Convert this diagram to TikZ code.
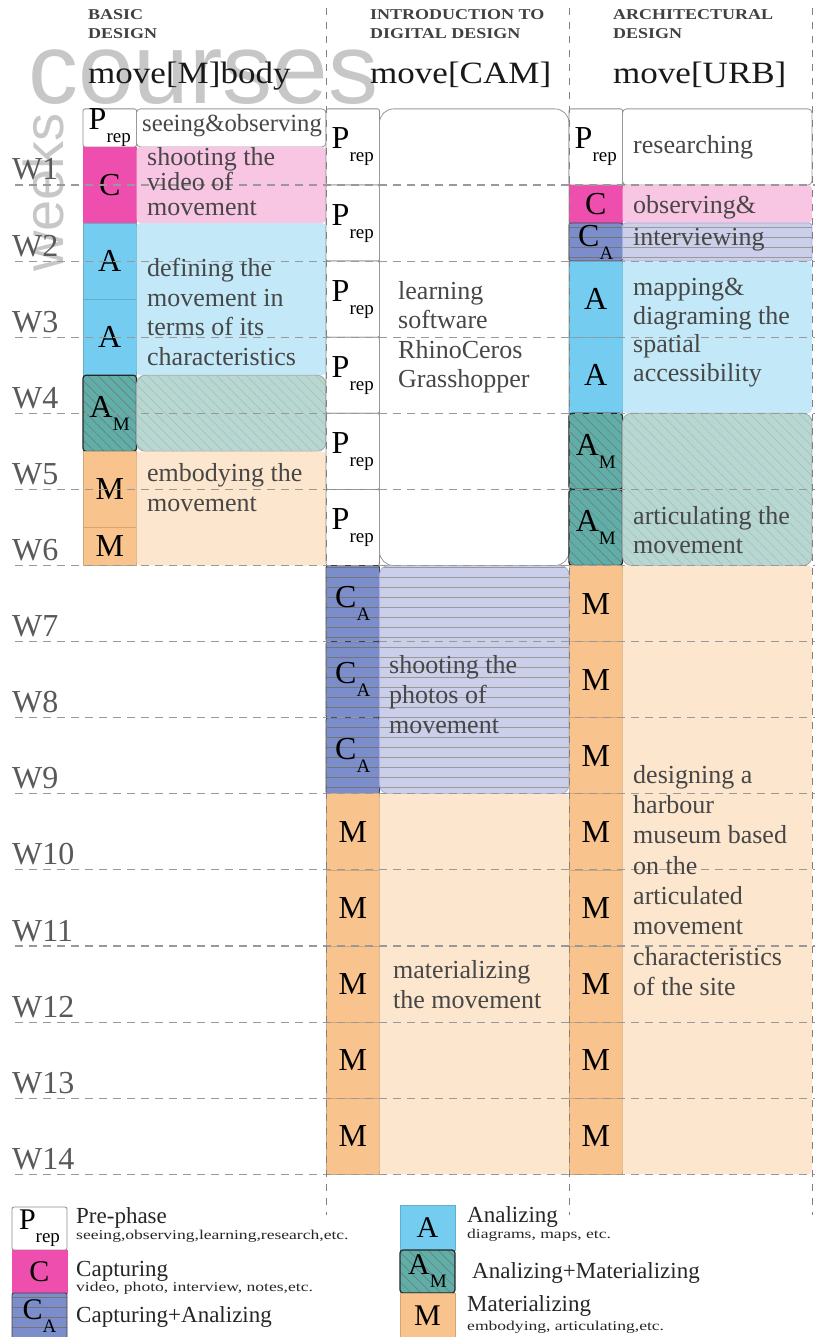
\documentclass[tikz,border=0pt]{standalone}
\usepackage{fontspec}
\setmainfont{Liberation Serif}
\newfontfamily\grayfont{Liberation Sans}
\newfontfamily\wideserif{Liberation Serif}[FakeStretch=1.2]
\newfontfamily\titleserif{Liberation Serif}[FakeStretch=1.13]
\newfontfamily\narrowserif{Liberation Serif}[FakeStretch=1.3]
\usetikzlibrary{positioning,patterns.meta}

\definecolor{capdark}{HTML}{EE4FAE}
\definecolor{caplight}{HTML}{F8C6E3}
\definecolor{anadark}{HTML}{74CDF1}
\definecolor{analight}{HTML}{C3E9F8}
\definecolor{amdark}{HTML}{5FAEA8}
\definecolor{amlight}{HTML}{B9D6D0}
\definecolor{cadark}{HTML}{7B8ECB}
\definecolor{calight}{HTML}{CBCFE9}
\definecolor{matdark}{HTML}{F8C38C}
\definecolor{matlight}{HTML}{FCE6CD}

\newcommand{\pxsize}[1]{\fontsize{#1}{#1}\selectfont}
\newcommand{\lowsub}[1]{\raisebox{-13pt}{\pxsize{19}#1}}
% block: name, style, left, width, first week, weeks long, text
\newcommand{\blk}[7]{\node[#2,minimum width=#4pt,minimum height={76.1pt*#6}]
  (#1) at (#3,{108.9+76.1*#5}) {#7};}

\begin{document}
\begin{tikzpicture}[x=1pt,y=-1pt,
  cell/.style={anchor=north west,inner sep=0pt,outer sep=0pt,line width=0.8pt,font=\pxsize{32}},
  pcell/.style={cell,fill=white,draw=black!45,rounded corners=2pt},
  ccell/.style={cell,fill=capdark,draw=capdark},
  acell/.style={cell,fill=anadark,draw=anadark!85!black},
  amcell/.style={cell,preaction={fill=amdark},pattern={Lines[angle=-45,distance=7pt,line width=0.5pt]},
    pattern color=black!55,draw=black!85,line width=1.2pt,rounded corners=3pt},
  cacell/.style={cell,preaction={fill=cadark},pattern={Lines[angle=0,distance=10pt,line width=0.7pt]},
    pattern color=black!55,draw=black!75,rounded corners=2pt},
  mcell/.style={cell,fill=matdark,draw=matdark!85!black},
  pdesc/.style={cell,fill=white,draw=black!40,rounded corners=4pt},
  cdesc/.style={cell,fill=caplight,rounded corners=4pt},
  adesc/.style={cell,fill=analight,rounded corners=4pt},
  amdesc/.style={cell,preaction={fill=amlight},pattern={Lines[angle=-45,distance=7pt,line width=0.5pt]},
    pattern color=amdark!70,draw=black!35,rounded corners=9pt},
  cadesc/.style={cell,preaction={fill=calight},pattern={Lines[angle=0,distance=10pt,line width=0.7pt]},
    pattern color=black!40,draw=cadark!70,rounded corners=9pt},
  mdesc/.style={cell,fill=matlight,rounded corners=4pt},
  dtext/.style={align=left,inner sep=0pt,text=black!72,font=\fontsize{26}{29.5}\selectfont},
  head/.style={anchor=north west,align=left,inner sep=0pt,text=black!75,font=\wideserif\bfseries\fontsize{15}{19.5}\selectfont},
  title/.style={anchor=base west,inner sep=0pt,text=black!90,font=\titleserif\pxsize{31}},
  wk/.style={anchor=base west,inner sep=0pt,text=black!65,font=\pxsize{32}},
  wkline/.style={black!40,line width=1.1pt,dash pattern=on 8pt off 6pt},
  colline/.style={black!50,line width=1pt,dash pattern=on 7pt off 7pt},
  legt/.style={anchor=base west,inner sep=0pt,text=black!85,font=\pxsize{23}},
  legs/.style={anchor=base west,inner sep=0pt,text=black!85,font=\narrowserif\pxsize{13.5}}]
\useasboundingbox (0,0) rectangle (823,1337);

% background words
\node[anchor=base west,inner sep=0pt,font=\grayfont\pxsize{100},text=black!22] (crs) at (28,104) {courses};
\node[rotate=90,anchor=base west,inner sep=0pt,font=\grayfont\pxsize{56},text=black!22] (wks) at (63,272) {weeks};

% course headers
\node[head] (h1) at (88,9) {BASIC\\DESIGN};
\node[head] (h2) at (370,9) {INTRODUCTION TO\\DIGITAL DESIGN};
\node[head] (h3) at (613,9) {ARCHITECTURAL\\DESIGN};
\node[title] (m1) at (88,84) {move[M]body};
\node[title] (m2) at (370,84) {move[CAM]};
\node[title] (m3) at (613,84) {move[URB]};

% move[M]body
\blk{k1a}{pcell}{83}{53.5}{0}{0.5}{\raisebox{2pt}{P\lowsub{rep}}}
\blk{k1b}{ccell}{83}{53.5}{0.5}{1}{C}
\blk{k1c}{acell}{83}{53.5}{1.5}{1}{A}
\blk{k1d}{acell}{83}{53.5}{2.5}{1}{A}
\blk{k1e}{amcell}{83}{53.5}{3.5}{1}{A\lowsub{M}}
\blk{k1f}{mcell}{83}{53.5}{4.5}{1}{M}
\blk{k1g}{mcell}{83}{53.5}{5.5}{0.5}{M}
\blk{d1a}{pdesc}{136.5}{189.5}{0}{0.5}{}
\blk{d1b}{cdesc}{136.5}{189.5}{0.5}{1}{}
\blk{d1c}{adesc}{136.5}{189.5}{1.5}{2}{}
\blk{d1d}{amdesc}{136.5}{189.5}{3.5}{1}{}
\blk{d1e}{mdesc}{136.5}{189.5}{4.5}{1.5}{}

% move[CAM]
\foreach \i in {0,...,5} {\blk{k2p\i}{pcell}{326}{53.5}{\i}{1}{P\lowsub{rep}}}
\foreach \i in {6,7,8} {\blk{k2c\i}{cacell}{326}{53.5}{\i}{1}{C\lowsub{A}}}
\foreach \i in {9,...,13} {\blk{k2m\i}{mcell}{326}{53.5}{\i}{1}{M}}
\blk{d2a}{pdesc,rounded corners=14pt}{379.5}{189.5}{0}{6}{}
\blk{d2b}{cadesc}{379.5}{189.5}{6}{3}{}
\blk{d2c}{mdesc}{379.5}{189.5}{9}{5}{}

% move[URB]
\blk{k3a}{pcell}{569}{53.5}{0}{1}{P\lowsub{rep}}
\blk{k3b}{ccell}{569}{53.5}{1}{0.5}{C}
\blk{k3c}{cacell}{569}{53.5}{1.5}{0.5}{\raisebox{4pt}{C\lowsub{A}}}
\blk{k3d}{acell}{569}{53.5}{2}{1}{A}
\blk{k3e}{acell}{569}{53.5}{3}{1}{A}
\blk{k3f}{amcell}{569}{53.5}{4}{1}{A\lowsub{M}}
\blk{k3g}{amcell}{569}{53.5}{5}{1}{A\lowsub{M}}
\foreach \i in {6,...,13} {\blk{k3m\i}{mcell}{569}{53.5}{\i}{1}{M}}
\blk{d3a}{pdesc}{622.5}{189.5}{0}{1}{}
\blk{d3b}{cdesc}{622.5}{189.5}{1}{0.5}{}
\blk{d3c}{cadesc,rounded corners=3pt}{622.5}{189.5}{1.5}{0.5}{}
\blk{d3d}{adesc}{622.5}{189.5}{2}{2}{}
\blk{d3e}{amdesc}{622.5}{189.5}{4}{2}{}
\blk{d3f}{mdesc}{622.5}{189.5}{6}{8}{}

% week grid
\foreach \k in {1,...,14} {
  \coordinate (wl\k) at (15,{108.9+76.1*\k});
  \coordinate (wr\k) at (815,{108.9+76.1*\k});
  \draw[wkline] (wl\k) -- (wr\k);
  \node[wk] (w\k) at ([xshift=-3pt,yshift=5pt]wl\k) {W\k};
}
\foreach \x/\n in {326/a,569/b,812/c} {
  \coordinate (ct\n) at (\x,8);
  \coordinate (cb\n) at (\x,1215);
  \draw[colline] (ct\n) -- (cb\n);
}

% texts in the blocks
\node[dtext,font=\pxsize{24.7},below right=5.5pt and 5.5pt of d1a.north west] (t1a) {seeing\&observing};
\node[dtext,font=\fontsize{26}{25}\selectfont,below right=0pt and 10.5pt of d1b.north west] (t1b) {shooting the\\video of\\movement};
\node[dtext,below right=35pt and 10.5pt of d1c.north west] (t1c) {defining the\\movement in\\terms of its\\characteristics};
\node[dtext,font=\fontsize{26}{30}\selectfont,below right=11.6pt and 10.5pt of d1e.north west] (t1e) {embodying the\\movement};
\node[dtext,below right=172pt and 18.5pt of d2a.north west] (t2a) {learning\\software\\RhinoCeros\\Grasshopper};
\node[dtext,font=\fontsize{26}{30}\selectfont,below right=89.5pt and 9.5pt of d2b.north west] (t2b) {shooting the\\photos of\\movement};
\node[dtext,font=\fontsize{26}{30}\selectfont,below right=166.6pt and 13.5pt of d2c.north west] (t2c) {materializing\\the movement};
\node[dtext,below right=26pt and 10.5pt of d3a.north west] (t3a) {researching};
\node[dtext,below right=10pt and 10.5pt of d3b.north west] (t3b) {observing\&};
\node[dtext,below right=5pt and 10.5pt of d3c.north west] (t3c) {interviewing};
\node[dtext,font=\fontsize{26}{28.7}\selectfont,below right=17pt and 10.5pt of d3d.north west] (t3d) {mapping\&\\diagraming the\\spatial\\accessibility};
\node[dtext,font=\fontsize{26}{29}\selectfont,below right=92.7pt and 10.5pt of d3e.north west] (t3e) {articulating the\\movement};
\node[dtext,font=\fontsize{26}{30.3}\selectfont,below right=199.5pt and 10.5pt of d3f.north west] (t3f) {designing a\\harbour\\museum based\\on the\\articulated\\movement\\characteristics\\of the site};

% legend
\node[pcell,minimum width=55pt,minimum height=43pt,font=\pxsize{30}] (lgp) at (12,1207) {P\lowsub{rep}};
\node[ccell,minimum width=55pt,minimum height=43pt,font=\pxsize{30}] (lgc) at (12,1250) {C};
\node[cacell,minimum width=55pt,minimum height=46pt,font=\pxsize{30}] (lgca) at (12,1293) {C\lowsub{A}};
\node[acell,minimum width=55pt,minimum height=45pt,font=\pxsize{30}] (lga) at (400,1205) {A};
\node[amcell,minimum width=55pt,minimum height=43pt,font=\pxsize{30}] (lgam) at (400,1250) {A\lowsub{M}};
\node[mcell,minimum width=55pt,minimum height=46pt,font=\pxsize{30}] (lgm) at (400,1293) {M};
\node[legt] (lt1) at (76,1223) {Pre-phase};
\node[legs] (ls1) at (76,1239) {seeing,observing,learning,research,etc.};
\node[legt] (lt2) at (76,1276) {Capturing};
\node[legs] (ls2) at (76,1291) {video, photo, interview, notes,etc.};
\node[legt] (lt3) at (76,1322) {Capturing+Analizing};
\node[legt] (lt4) at (467,1222) {Analizing};
\node[legs] (ls4) at (467,1238) {diagrams, maps, etc.};
\node[legt] (lt5) at (472,1278) {Analizing+Materializing};
\node[legt] (lt6) at (467,1311) {Materializing};
\node[legs] (ls6) at (467,1330) {embodying, articulating,etc.};
\end{tikzpicture}
\end{document}
